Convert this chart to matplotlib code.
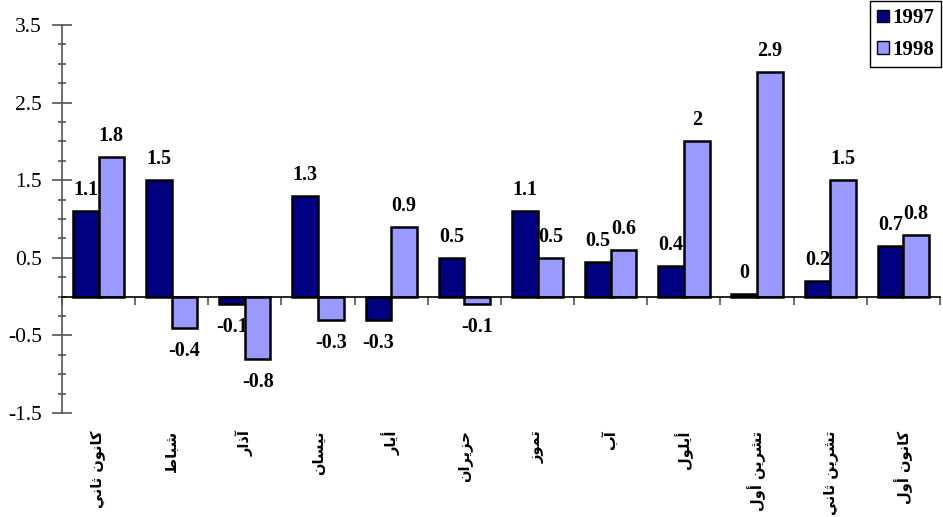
import matplotlib
matplotlib.use("Agg")
import matplotlib.pyplot as plt
import matplotlib.transforms as mtransforms
from matplotlib.ticker import MultipleLocator
import numpy as np

months = ["كانون ثاني", "شباط", "آذار", "نيسان", "أيار", "حزيران",
          "تموز", "آب", "أيلول", "تشرين أول", "تشرين ثاني", "كانون أول"]
vals_1997 = [1.1, 1.5, -0.1, 1.3, -0.3, 0.5, 1.1, 0.45, 0.4, 0.03, 0.2, 0.65]
vals_1998 = [1.8, -0.4, -0.8, -0.3, 0.9, -0.1, 0.5, 0.6, 2.0, 2.9, 1.5, 0.8]
labels_1997 = ["1.1", "1.5", "-0.1", "1.3", "-0.3", "0.5", "1.1", "0.5", "0.4", "0", "0.2", "0.7"]
labels_1998 = ["1.8", "-0.4", "-0.8", "-0.3", "0.9", "-0.1", "0.5", "0.6", "2", "2.9", "1.5", "0.8"]

# arabic presentation forms: isolated, final, initial, medial
FORMS = {
    'ا': ('\uFE8D', '\uFE8E', None, None),
    'آ': ('\uFE81', '\uFE82', None, None),
    'أ': ('\uFE83', '\uFE84', None, None),
    'ب': ('\uFE8F', '\uFE90', '\uFE91', '\uFE92'),
    'ت': ('\uFE95', '\uFE96', '\uFE97', '\uFE98'),
    'ث': ('\uFE99', '\uFE9A', '\uFE9B', '\uFE9C'),
    'ح': ('\uFEA1', '\uFEA2', '\uFEA3', '\uFEA4'),
    'ذ': ('\uFEAB', '\uFEAC', None, None),
    'ر': ('\uFEAD', '\uFEAE', None, None),
    'ز': ('\uFEAF', '\uFEB0', None, None),
    'س': ('\uFEB1', '\uFEB2', '\uFEB3', '\uFEB4'),
    'ش': ('\uFEB5', '\uFEB6', '\uFEB7', '\uFEB8'),
    'ط': ('\uFEC1', '\uFEC2', '\uFEC3', '\uFEC4'),
    'ك': ('\uFED9', '\uFEDA', '\uFEDB', '\uFEDC'),
    'ل': ('\uFEDD', '\uFEDE', '\uFEDF', '\uFEE0'),
    'م': ('\uFEE1', '\uFEE2', '\uFEE3', '\uFEE4'),
    'ن': ('\uFEE5', '\uFEE6', '\uFEE7', '\uFEE8'),
    'و': ('\uFEED', '\uFEEE', None, None),
    'ي': ('\uFEF1', '\uFEF2', '\uFEF3', '\uFEF4'),
}


def shape(word):
    # join letters and flip to visual order, matplotlib has no bidi
    out = []
    for i, ch in enumerate(word):
        if ch not in FORMS:
            out.append(ch)
            continue
        prev = word[i - 1] if i > 0 else ''
        nxt = word[i + 1] if i + 1 < len(word) else ''
        iso, fin, ini, med = FORMS[ch]
        jp = prev in FORMS and FORMS[prev][2] is not None
        jn = ini is not None and nxt in FORMS
        if jp and jn:
            out.append(med)
        elif jp:
            out.append(fin)
        elif jn:
            out.append(ini)
        else:
            out.append(iso)
    return ''.join(out)[::-1]


plt.rcParams['font.family'] = ['Liberation Serif', 'DejaVu Serif']

fig = plt.figure(figsize=(9.43, 5.17), dpi=100)
ax = fig.add_axes([0.0657, 0.2012, 0.9311, 0.7504])

x = np.arange(len(months))
w = 0.35
ax.bar(x - w / 2, vals_1997, w, color='#000080', edgecolor='black', linewidth=1.8, label='1997')
ax.bar(x + w / 2, vals_1998, w, color='#9999FF', edgecolor='black', linewidth=1.8, label='1998')

for xi, v, t in zip(x, vals_1997, labels_1997):
    off = 21 if v >= 0 else -23
    ax.annotate(t, (xi - w / 2, v), xytext=(0, off), textcoords='offset pixels',
                ha='center', va='center', fontsize=14.5, fontweight='bold')
for xi, v, t in zip(x, vals_1998, labels_1998):
    off = 21 if v >= 0 else -23
    ax.annotate(t, (xi + w / 2, v), xytext=(0, off), textcoords='offset pixels',
                ha='center', va='center', fontsize=14.5, fontweight='bold')

ax.set_xlim(-0.5, len(months) - 0.5)
ax.set_ylim(-1.5, 3.5)
ax.set_yticks([-1.5, -0.5, 0.5, 1.5, 2.5, 3.5])
ax.set_yticklabels(["-1.5", "-0.5", "0.5", "1.5", "2.5", "3.5"], fontsize=15.5)
ax.yaxis.set_minor_locator(MultipleLocator(0.25))
ax.tick_params(axis='y', which='major', direction='inout', length=15, width=1.2, pad=7,
               color='#555555')
ax.tick_params(axis='y', which='minor', direction='inout', length=6, width=1.2, color='#555555')

# x axis sits on zero
ax.spines['top'].set_visible(False)
ax.spines['right'].set_visible(False)
ax.spines['bottom'].set_position(('data', 0))
ax.spines['left'].set_color('#555555')
ax.spines['left'].set_linewidth(1.2)
ax.spines['bottom'].set_color('black')
ax.spines['bottom'].set_linewidth(1.2)
ax.set_xticks(np.arange(-0.5, len(months), 1.0))
ax.set_xticklabels([])
ax.tick_params(axis='x', which='major', direction='out', length=6, width=1.2, color='#555555')

trans = mtransforms.blended_transform_factory(ax.transData, ax.transAxes)
for xi, m in zip(x, months):
    ax.text(xi, -0.045, shape(m), transform=trans, rotation=90, ha='center', va='top',
            fontsize=10.5, fontweight='bold', family=['DejaVu Sans'])

leg = ax.legend(loc='upper right', bbox_to_anchor=(0.998, 0.998), bbox_transform=fig.transFigure,
                fancybox=False, framealpha=1, edgecolor='black', handlelength=0.55, handleheight=0.55,
                handletextpad=0.15, borderpad=0.35, labelspacing=0.55, borderaxespad=0,
                prop={'weight': 'bold', 'size': 15})
leg.get_frame().set_linewidth(1.0)
for p in leg.get_patches():
    p.set_linewidth(1.0)

fig.savefig('out.png', dpi=100)
